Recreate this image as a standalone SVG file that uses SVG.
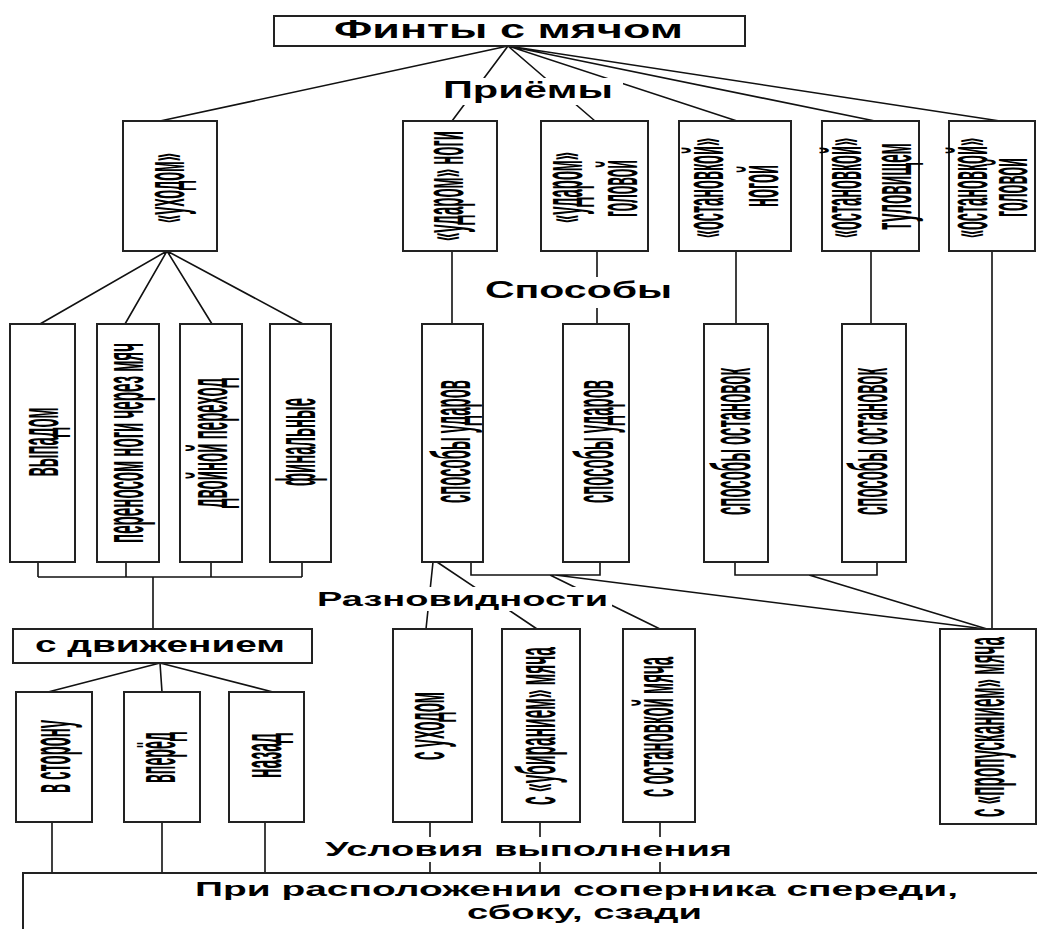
<svg xmlns="http://www.w3.org/2000/svg" width="1037" height="929" viewBox="0 0 1037 929">
<style>
.bx{fill:#fff;stroke:#222;stroke-width:2}
.ln{stroke:#111;stroke-width:1.6;fill:none}
.h{font-family:"Liberation Sans",Arial,sans-serif;font-weight:bold;text-anchor:middle;fill:#000}
.v{font-family:"Liberation Sans",Arial,sans-serif;font-weight:bold;font-size:16px;text-anchor:middle;fill:#000}
.bg{fill:#fff;stroke:none}
</style>
<rect width="1037" height="929" fill="#fff"/>

<g id="connectors">
  <path class="ln" d="M508,46 L160,121 M508,46 L452,121 M508,46 L595,121 M508,46 L737,121 M508,46 L875,121 M508,46 L1000,121"/>
  <path class="ln" d="M167,251 L40,324 M167,251 L125,324 M167,251 L212,324 M167,251 L303,324"/>
  <path class="ln" d="M452,251 V324 M597,251 V324 M736,251 V324 M871,251 V324 M992,251 V629"/>
  <path class="ln" d="M38,562 V577 M126,562 V577 M211,562 V577 M302,562 V577 M38,577 H302 M153,577 V629"/>
  <path class="ln" d="M160,663 L48,692 M160,663 L162,692 M160,663 L273,692"/>
  <path class="ln" d="M52,822 V873 M162,822 V873 M265,822 V873"/>
  <path class="ln" d="M433,562 L426,629 M437,562 L537,629 M471,562 V575 H600 V562 M550,575 L660,629 M555,575 L985,629"/>
  <path class="ln" d="M735,562 V575 H877 V562 M809,575 L987,629"/>
  <path class="ln" d="M430,822 V873 M540,822 V873 M660,822 V873"/>
</g>

<g id="label-priemy"><rect class="bg" x="440" y="78" width="183" height="27"/><text class="h" x="528" y="98" font-size="24" textLength="170" lengthAdjust="spacingAndGlyphs">Приёмы</text></g>
<g id="label-sposoby"><rect class="bg" x="480" y="277" width="196" height="31"/><text class="h" x="578.5" y="298" font-size="24" textLength="187" lengthAdjust="spacingAndGlyphs">Способы</text></g>
<g id="label-raznovidnosti"><rect class="bg" x="312" y="587" width="300" height="24"/><text class="h" x="462.5" y="606" font-size="20" textLength="291" lengthAdjust="spacingAndGlyphs">Разновидности</text></g>
<g id="label-usloviya"><rect class="bg" x="320" y="837" width="417" height="25"/><text class="h" x="528.5" y="856" font-size="21" textLength="407" lengthAdjust="spacingAndGlyphs">Условия выполнения</text></g>

<g id="root"><rect class="bx" x="274" y="16" width="471" height="30"/><text class="h" x="508.5" y="38" font-size="25" textLength="349" lengthAdjust="spacingAndGlyphs">Финты с мячом</text></g>

<g id="n-ukhodom"><rect class="bx" x="123" y="121" width="94" height="130"/>
<text class="v" transform="translate(169,188) rotate(-90) scale(1,3.5)" y="4.2" textLength="70" lengthAdjust="spacingAndGlyphs">«уходом»</text></g>
<g id="n-udarom-nogi"><rect class="bx" x="403" y="121" width="94" height="130"/>
<text class="v" transform="translate(448,186) rotate(-90) scale(1,3.5)" y="4.2" textLength="110" lengthAdjust="spacingAndGlyphs">«ударом» ноги</text></g>
<g id="n-udarom-golovoy"><rect class="bx" x="541" y="121" width="107" height="130"/>
<text class="v" transform="translate(567,187.5) rotate(-90) scale(1,3.5)" y="4.2" textLength="71" lengthAdjust="spacingAndGlyphs">«ударом»</text>
<text class="v" transform="translate(622,188.5) rotate(-90) scale(1,3.5)" y="4.2" textLength="57" lengthAdjust="spacingAndGlyphs">головой</text></g>
<g id="n-ostanovkoy-nogoy"><rect class="bx" x="679" y="121" width="112" height="130"/>
<text class="v" transform="translate(708,188) rotate(-90) scale(1,3.5)" y="4.2" textLength="100" lengthAdjust="spacingAndGlyphs">«остановкой»</text>
<text class="v" transform="translate(763,186) rotate(-90) scale(1,3.5)" y="4.2" textLength="42" lengthAdjust="spacingAndGlyphs">ногой</text></g>
<g id="n-ostanovkoy-tulovishchem"><rect class="bx" x="822" y="121" width="97" height="130"/>
<text class="v" transform="translate(846,188) rotate(-90) scale(1,3.5)" y="4.2" textLength="100" lengthAdjust="spacingAndGlyphs">«остановкой»</text>
<text class="v" transform="translate(896,186.5) rotate(-90) scale(1,3.5)" y="4.2" textLength="87" lengthAdjust="spacingAndGlyphs">туловищем</text></g>
<g id="n-ostanovkoy-golovoy"><rect class="bx" x="949" y="121" width="86" height="130"/>
<text class="v" transform="translate(972,188) rotate(-90) scale(1,3.5)" y="4.2" textLength="100" lengthAdjust="spacingAndGlyphs">«остановкой»</text>
<text class="v" transform="translate(1013,187.5) rotate(-90) scale(1,3.3)" y="4.2" textLength="59" lengthAdjust="spacingAndGlyphs">головой</text></g>

<g id="n-vypadom"><rect class="bx" x="10" y="324" width="65" height="238"/>
<text class="v" transform="translate(43,442) rotate(-90) scale(1,3.5)" y="4.2" textLength="69" lengthAdjust="spacingAndGlyphs">выпадом</text></g>
<g id="n-perenosom"><rect class="bx" x="97" y="324" width="62" height="238"/>
<text class="v" transform="translate(128,443) rotate(-90) scale(1,3.5)" y="4.2" textLength="200" lengthAdjust="spacingAndGlyphs">переносом ноги через мяч</text></g>
<g id="n-dvoynoy"><rect class="bx" x="180" y="324" width="62" height="238"/>
<text class="v" transform="translate(212,443) rotate(-90) scale(1,3.5)" y="4.2" textLength="130" lengthAdjust="spacingAndGlyphs">двойной переход</text></g>
<g id="n-finalnye"><rect class="bx" x="270" y="324" width="61" height="238"/>
<text class="v" transform="translate(300,442) rotate(-90) scale(1,3.5)" y="4.2" textLength="88" lengthAdjust="spacingAndGlyphs">финальные</text></g>

<g id="n-sposoby-udarov-1"><rect class="bx" x="422" y="324" width="61" height="238"/>
<text class="v" transform="translate(455,441.5) rotate(-90) scale(1,3.5)" y="4.2" textLength="123" lengthAdjust="spacingAndGlyphs">способы ударов</text></g>
<g id="n-sposoby-udarov-2"><rect class="bx" x="563" y="324" width="66" height="238"/>
<text class="v" transform="translate(598,441.5) rotate(-90) scale(1,3.5)" y="4.2" textLength="123" lengthAdjust="spacingAndGlyphs">способы ударов</text></g>
<g id="n-sposoby-ostanovok-1"><rect class="bx" x="704" y="324" width="64" height="238"/>
<text class="v" transform="translate(735,441.5) rotate(-90) scale(1,3.5)" y="4.2" textLength="147" lengthAdjust="spacingAndGlyphs">способы остановок</text></g>
<g id="n-sposoby-ostanovok-2"><rect class="bx" x="842" y="324" width="64" height="238"/>
<text class="v" transform="translate(872,441.5) rotate(-90) scale(1,3.5)" y="4.2" textLength="147" lengthAdjust="spacingAndGlyphs">способы остановок</text></g>

<g id="n-s-dvizheniem"><rect class="bx" x="13" y="629" width="299" height="34"/>
<text class="h" x="160" y="652" font-size="22" textLength="250" lengthAdjust="spacingAndGlyphs">с движением</text></g>

<g id="n-v-storonu"><rect class="bx" x="16" y="692" width="76" height="130"/>
<text class="v" transform="translate(55,756.5) rotate(-90) scale(1,3.5)" y="4.2" textLength="73" lengthAdjust="spacingAndGlyphs">в сторону</text></g>
<g id="n-vpered"><rect class="bx" x="124" y="692" width="76" height="130"/>
<text class="v" transform="translate(160,757.5) rotate(-90) scale(1,3.5)" y="4.2" textLength="51" lengthAdjust="spacingAndGlyphs">вперёд</text></g>
<g id="n-nazad"><rect class="bx" x="229" y="692" width="75" height="130"/>
<text class="v" transform="translate(266,755.5) rotate(-90) scale(1,3.5)" y="4.2" textLength="45" lengthAdjust="spacingAndGlyphs">назад</text></g>

<g id="n-s-ukhodom"><rect class="bx" x="393" y="629" width="79" height="193"/>
<text class="v" transform="translate(429,726) rotate(-90) scale(1,3.5)" y="4.2" textLength="68" lengthAdjust="spacingAndGlyphs">с уходом</text></g>
<g id="n-s-ubiraniem"><rect class="bx" x="502" y="629" width="78" height="193"/>
<text class="v" transform="translate(540,726) rotate(-90) scale(1,3.5)" y="4.2" textLength="158" lengthAdjust="spacingAndGlyphs">с «убиранием» мяча</text></g>
<g id="n-s-ostanovkoy"><rect class="bx" x="623" y="629" width="72" height="193"/>
<text class="v" transform="translate(658,727) rotate(-90) scale(1,3.5)" y="4.2" textLength="140" lengthAdjust="spacingAndGlyphs">с остановкой мяча</text></g>
<g id="n-s-propuskaniem"><rect class="bx" x="940" y="629" width="96" height="195"/>
<text class="v" transform="translate(989,727) rotate(-90) scale(1,3.5)" y="4.2" textLength="180" lengthAdjust="spacingAndGlyphs">с «пропусканием» мяча</text></g>

<g id="n-usloviya"><rect class="bx" x="23" y="873" width="1030" height="80"/>
<text class="h" x="576.5" y="896" font-size="20" textLength="763" lengthAdjust="spacingAndGlyphs">При расположении соперника спереди,</text>
<text class="h" x="584.5" y="919" font-size="20" textLength="235" lengthAdjust="spacingAndGlyphs">сбоку, сзади</text></g>
</svg>
